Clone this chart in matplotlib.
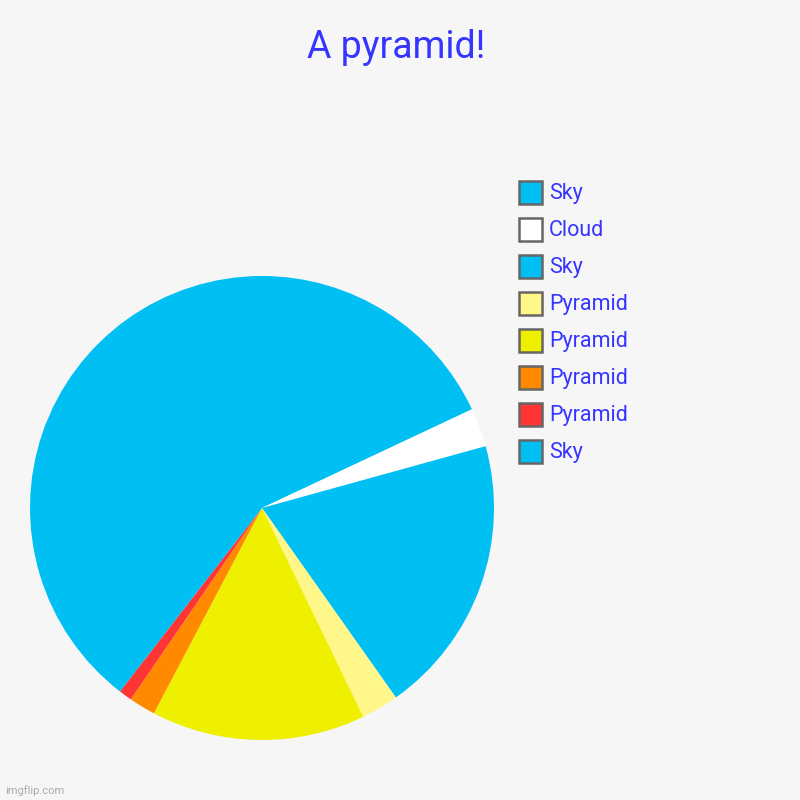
import matplotlib
matplotlib.use("Agg")
import matplotlib.pyplot as plt
from matplotlib.patches import Rectangle

labels = ["Sky", "Cloud", "Sky", "Pyramid", "Pyramid", "Pyramid", "Pyramid", "Sky"]
values = [18.0, 2.7, 19.5, 2.6, 14.9, 1.85, 0.92, 39.5]
colors = ["#00BFF3", "#FFFFFF", "#00BFF3", "#FFF78A", "#EFEF00", "#FF8A00", "#FF3535", "#00BFF3"]
title = "A pyramid!"

BG = "#F6F6F6"
TXT = "#3535FF"
W = H = 800
fig = plt.figure(figsize=(8, 8), dpi=100)
fig.patch.set_facecolor(BG)
ax = fig.add_axes([0, 0, 1, 1])

cx, cy, r = 262, 508, 232
ax.pie(values, colors=colors, startangle=90, counterclock=False,
       center=(cx, H - cy), radius=r, frame=True,
       wedgeprops=dict(linewidth=0, antialiased=True))
ax.set_xlim(0, W)
ax.set_ylim(0, H)
ax.set_aspect("equal")
ax.axis("off")

fig.text(396 / W, 1 - 47 / H, title, ha="center", va="center",
         fontsize=27, color=TXT, family=["Roboto", "DejaVu Sans"])

y0, dy = 192, 37
for i, (lab, col) in enumerate(zip(labels, colors)):
    yc = y0 + i * dy
    ax.add_patch(Rectangle((519, H - yc - 11.5), 23, 23, facecolor=col,
                           edgecolor="#666666", linewidth=1.8, clip_on=False))
    ax.text(549, H - yc - 1.5, lab, ha="left", va="center", fontsize=15.5,
            color=TXT, family=["Roboto", "DejaVu Sans"])

fig.text(5 / W, 1 - 791 / H, "imgflip.com", ha="left", va="center",
         fontsize=8, color="#AAAAAA", family=["Roboto", "DejaVu Sans"])

fig.savefig("out.png", dpi=100, facecolor=BG)
